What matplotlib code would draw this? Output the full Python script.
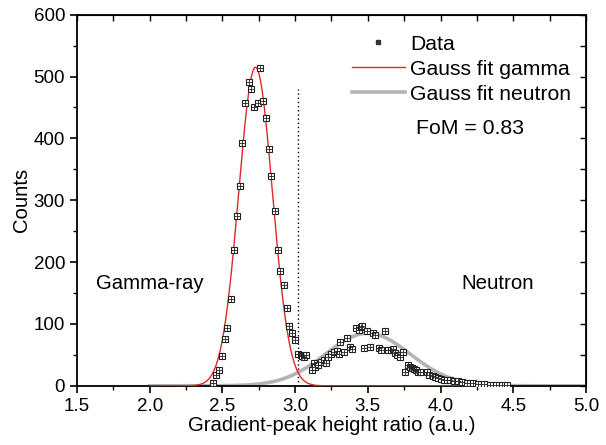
import matplotlib
matplotlib.use('Agg')
import matplotlib.pyplot as plt
import numpy as np
from matplotlib.lines import Line2D

plt.rcParams['font.family'] = ['Liberation Sans', 'DejaVu Sans']

# measured points (gradient-peak height ratio, counts)
gamma_x = [2.435, 2.458, 2.474, 2.497, 2.515, 2.532, 2.559, 2.577, 2.598, 2.619,
           2.637, 2.658, 2.681, 2.699, 2.720, 2.745, 2.756, 2.780, 2.800, 2.818,
           2.837, 2.860, 2.880, 2.899, 2.922, 2.942, 2.959, 2.980, 2.998, 3.018,
           3.037, 3.050, 3.060, 3.078]
gamma_y = [4, 18, 25, 48, 75, 93, 141, 220, 275, 323,
           392, 458, 491, 480, 450, 457, 514, 461, 433, 383,
           339, 283, 219, 186, 163, 126, 96, 86, 74, 52,
           50, 48, 47, 50]

neutron_x = [3.114, 3.129, 3.137, 3.160, 3.178, 3.201, 3.210, 3.228, 3.246, 3.269,
             3.285, 3.300, 3.309, 3.338, 3.355, 3.378, 3.392, 3.419, 3.440, 3.450,
             3.458, 3.476, 3.492, 3.515, 3.537, 3.550, 3.575, 3.590, 3.618, 3.640,
             3.660, 3.670, 3.687, 3.700, 3.720, 3.742, 3.753, 3.776, 3.790, 3.805,
             3.818, 3.830, 3.845, 3.862, 3.906, 3.920, 3.945, 3.965, 3.985, 4.005,
             4.025, 4.045, 4.065, 4.090, 4.120, 4.150, 4.180, 4.220, 4.260, 4.300,
             4.340, 4.380, 4.420, 4.460]
neutron_y = [26, 37, 30, 34, 38, 42, 37, 47, 51, 54,
             57, 52, 71, 54, 78, 63, 60, 93, 91, 95,
             96, 61, 88, 63, 85, 82, 61, 58, 89, 58,
             58, 60, 53, 50, 47, 55, 23, 34, 30, 28,
             27, 25, 23, 22, 23, 18, 16, 14, 12, 11,
             10, 10, 9, 8, 7, 6, 5, 4, 3, 3,
             2, 2, 2, 1]

# gauss fit parameters: amplitude, centre, sigma
gamma_fit = (515, 2.728, 0.116)
neutron_fit = (85, 3.50, 0.29)
threshold = 3.02
fom = 0.83

def gauss(x, a, c, s):
    return a * np.exp(-0.5 * ((x - c) / s) ** 2)

fig = plt.figure(figsize=(6.06, 4.45), dpi=100)
ax = fig.add_axes([0.127, 0.133, 0.840, 0.834])

xg = np.linspace(2.0, 4.2, 600)
xn = np.linspace(2.0, 5.0, 600)

ax.plot(xn, gauss(xn, *neutron_fit), color='#b4b4b4', lw=2.6, zorder=2)
ax.plot(xg, gauss(xg, *gamma_fit), color='#e02828', lw=1.0, zorder=3)

px = gamma_x + neutron_x
py = gamma_y + neutron_y
ax.plot(px, py, ls='none', marker='s', ms=4.8, mfc='white', mec='#222222', mew=0.8, zorder=4)
ax.plot(px, py, ls='none', marker='+', ms=4.2, mec='#222222', mew=0.6, zorder=5)

ax.plot([threshold, threshold], [0, 480], color='black', ls=(0, (1, 2)), lw=1.0, zorder=1)

ax.set_xlim(1.5, 5.0)
ax.set_ylim(0, 600)
ax.set_xticks(np.arange(1.5, 5.01, 0.5))
ax.set_xticks(np.arange(1.5, 5.01, 0.25), minor=True)
ax.set_yticks(np.arange(0, 601, 100))
ax.set_yticks(np.arange(0, 601, 50), minor=True)
ax.set_xticklabels(['%.1f' % v for v in np.arange(1.5, 5.01, 0.5)])
ax.tick_params(which='major', direction='out', length=5, width=1.2, labelsize=13.5, colors='black')
ax.tick_params(which='minor', direction='out', length=3, width=1.0)
for s in ax.spines.values():
    s.set_linewidth(1.3)

top = ax.secondary_xaxis('top')
top.set_xticks(np.arange(1.5, 5.01, 0.5))
top.set_xticks(np.arange(1.5, 5.01, 0.25), minor=True)
top.tick_params(which='both', direction='in', length=4, width=1.0, labeltop=False)
right = ax.secondary_yaxis('right')
right.set_yticks(np.arange(0, 601, 100))
right.set_yticks(np.arange(0, 601, 50), minor=True)
right.tick_params(which='both', direction='in', length=4, width=1.0, labelright=False)

ax.set_xlabel('Gradient-peak height ratio (a.u.)', fontsize=14.6, labelpad=1)
ax.set_ylabel('Counts', fontsize=14.6, labelpad=2)

handles = [
    Line2D([], [], ls='none', marker='s', ms=3.5, color='#333333'),
    Line2D([], [], color='#e02828', lw=1.0),
    Line2D([], [], color='#b4b4b4', lw=2.6),
]
ax.legend(handles, ['Data', 'Gauss fit gamma', 'Gauss fit neutron'],
          loc='upper left', bbox_to_anchor=(0.540, 0.946), frameon=False,
          fontsize=15.2, handlelength=2.5, handletextpad=0.25, labelspacing=0.28,
          borderpad=0, borderaxespad=0)

ax.text(4.20, 416, 'FoM = %.2f' % fom, fontsize=15.3, ha='center', va='center')
ax.text(2.00, 166, 'Gamma-ray', fontsize=14.7, ha='center', va='center')
ax.text(4.39, 166, 'Neutron', fontsize=14.8, ha='center', va='center')

fig.savefig('out.png', dpi=100)
